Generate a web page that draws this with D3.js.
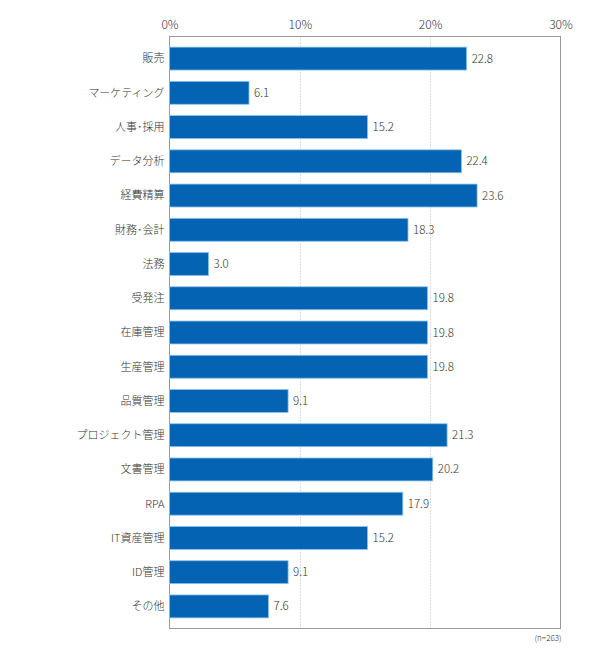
<!DOCTYPE html>
<html>
<head>
<meta charset="utf-8">
<script src="https://cdn.jsdelivr.net/npm/d3@7"></script>
<style>
  body { margin: 0; background: #fff; }
  text { font-family: "Noto Sans CJK JP", "Noto Sans", sans-serif; font-weight: 300; fill: #333; }
</style>
</head>
<body>
<div id="chart"></div>
<script>
// データ----------------------------------------------------------------------
const categories = ['販売', 'マーケティング', '人事･採用', 'データ分析', '経費精算', '財務･会計', '法務',
  '受発注', '在庫管理', '生産管理', '品質管理', 'プロジェクト管理', '文書管理', 'RPA', 'IT資産管理', 'ID管理', 'その他'];
const values = [22.8, 6.1, 15.2, 22.4, 23.6, 18.3, 3.0, 19.8, 19.8, 19.8, 9.1, 21.3, 20.2, 17.9, 15.2, 9.1, 7.6];
const ticks = [0, 10, 20, 30];
const note = '(n=263)';

// SVG領域--------------------------------------------------------------------
const width = 590;
const height = 663;
const plotLeft = 169.5, plotRight = 560.5, plotTop = 36.5, plotBottom = 628.5;

const svg = d3.select('#chart').append('svg')
  .attr('width', width)
  .attr('height', height);

const x = d3.scaleLinear().domain([0, 30]).range([plotLeft, plotRight]);
const y = d3.scaleBand().domain(categories).range([plotTop, plotBottom])
  .paddingInner(0.33).paddingOuter(0.31);

// グリッド線----------------------------------------------------------------
svg.append('g')
  .selectAll('line')
  .data(ticks.slice(1, -1))
  .enter().append('line')
  .attr('x1', d => Math.round(x(d)) + 0.5)
  .attr('x2', d => Math.round(x(d)) + 0.5)
  .attr('y1', plotTop)
  .attr('y2', plotBottom)
  .attr('stroke', '#bbb')
  .attr('stroke-width', 1)
  .attr('stroke-dasharray', '1,2');

// 枠線-----------------------------------------------------------------------
svg.append('rect')
  .attr('x', plotLeft)
  .attr('y', plotTop)
  .attr('width', plotRight - plotLeft)
  .attr('height', plotBottom - plotTop)
  .attr('fill', 'none')
  .attr('stroke', '#999')
  .attr('stroke-width', 1);

// 上軸-----------------------------------------------------------------------
const axis = svg.append('g')
  .attr('transform', 'translate(0,' + plotTop + ')')
  .call(d3.axisTop(x).tickValues(ticks).tickFormat(d => d + '%').tickSize(0).tickPadding(8));
axis.select('.domain').remove();
axis.selectAll('text')
  .attr('font-size', '12px')
  .attr('font-family', '"Noto Sans CJK JP", "Noto Sans", sans-serif')
  .attr('font-weight', 300)
  .attr('fill', '#333');

// 棒-------------------------------------------------------------------------
const g = svg.append('g')
  .selectAll('g')
  .data(categories)
  .enter().append('g');

g.append('rect')
  .attr('x', x(0))
  .attr('y', d => y(d))
  .attr('width', (d, i) => x(values[i]) - x(0))
  .attr('height', y.bandwidth())
  .attr('fill', '#0563b4')
  .attr('stroke', '#8cc4ec')
  .attr('stroke-width', 0.8);

// 値ラベル-------------------------------------------------------------------
g.append('text')
  .attr('x', (d, i) => x(values[i]) + 5)
  .attr('y', d => y(d) + y.bandwidth() / 2)
  .attr('dy', '0.35em')
  .attr('font-size', '11.5px')
  .text((d, i) => values[i].toFixed(1));

// 項目名---------------------------------------------------------------------
g.append('text')
  .attr('x', plotLeft - 5)
  .attr('y', d => y(d) + y.bandwidth() / 2)
  .attr('dy', '0.35em')
  .attr('text-anchor', 'end')
  .attr('font-size', '11px')
  .text(d => d);

// 注記-----------------------------------------------------------------------
svg.append('text')
  .attr('x', plotRight + 1)
  .attr('y', plotBottom + 12)
  .attr('text-anchor', 'end')
  .attr('font-size', '8px')
  .text(note);
</script>
</body>
</html>
